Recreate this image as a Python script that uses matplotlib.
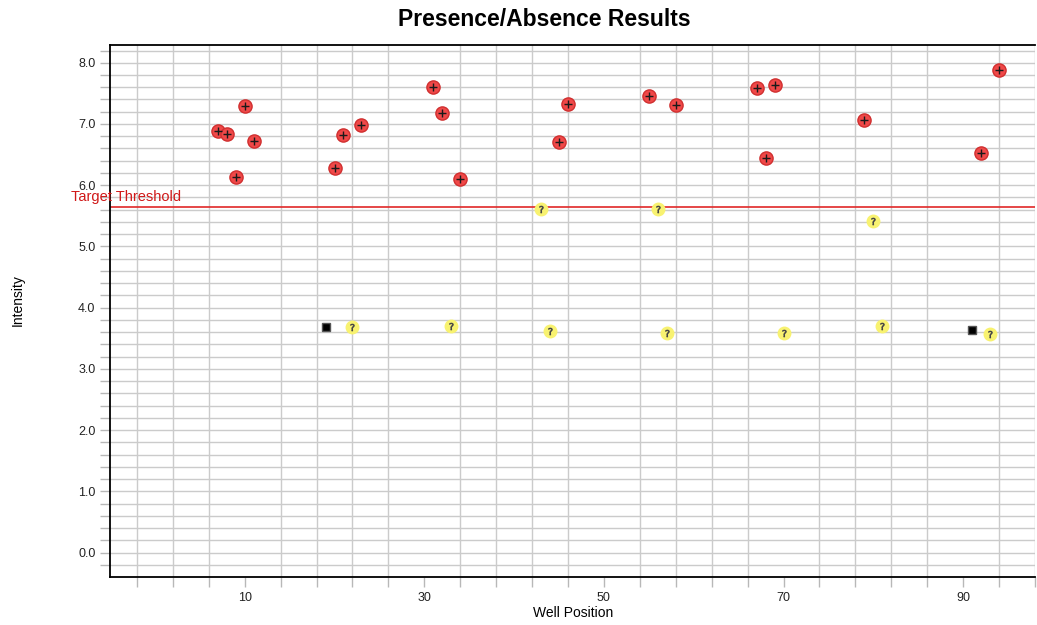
import numpy as np
import matplotlib
matplotlib.use('Agg')
import matplotlib.pyplot as plt

plt.rcParams['font.family'] = ['Liberation Sans', 'DejaVu Sans']

# positive calls (red)
pos_well = [7, 8, 9, 10, 11, 20, 21, 23, 31, 32, 34, 45, 46, 55, 58, 67, 68, 69, 79, 92, 94]
pos_int = [6.89, 6.84, 6.13, 7.29, 6.72, 6.28, 6.82, 6.98, 7.60, 7.18, 6.10, 6.71, 7.32,
           7.46, 7.31, 7.59, 6.44, 7.64, 7.07, 6.53, 7.88]
# undetermined calls (yellow ?)
und_well = [43, 56, 80, 22, 33, 44, 57, 70, 81, 93]
und_int = [5.61, 5.61, 5.42, 3.69, 3.70, 3.62, 3.59, 3.59, 3.70, 3.57]
# no template controls (black squares)
ntc_well = [19, 91]
ntc_int = [3.69, 3.63]

threshold = 5.64
x_labels = [10, 30, 50, 70, 90]
y_labels = [0.0, 1.0, 2.0, 3.0, 4.0, 5.0, 6.0, 7.0, 8.0]

fig = plt.figure(figsize=(10.37, 6.25), dpi=100)
ax = fig.add_axes([110/1037, 1-577/625, 925/1037, 532/625])

ax.set_xlim(-5, 98)
ax.set_ylim(-0.4, 8.29)

# grid
ax.set_xticks(np.arange(-2, 99, 4), minor=True)
ax.set_yticks(np.arange(-0.2, 8.25, 0.2), minor=True)
ax.set_xticks(x_labels)
ax.set_xticklabels([str(v) for v in x_labels])
ax.set_yticks(y_labels)
ax.set_yticklabels(['%.1f' % v for v in y_labels])
ax.grid(True, which='minor', color='#cbcbcb', linewidth=1.0, zorder=0)
ax.grid(True, which='major', axis='y', color='#cbcbcb', linewidth=1.0, zorder=0)
ax.tick_params(which='both', direction='out', length=7, color='#b8b8b8', width=1,
               labelsize=9, labelcolor='#222222')
ax.set_axisbelow(True)

for s in ['left', 'bottom', 'top']:
    ax.spines[s].set_color('black')
    ax.spines[s].set_linewidth(1.3)
ax.spines['right'].set_visible(False)

# threshold
ax.axhline(threshold, color='#e02828', linewidth=1.2, zorder=2)
ax.text(-9.3, threshold + 0.06, 'Target Threshold', color='#d01818', fontsize=10.5,
        ha='left', va='bottom', clip_on=False)

# points
ax.plot(pos_well, pos_int, 'o', ms=9.5, mfc='#f04848', mec='#d03030', mew=1, zorder=3)
ax.plot(pos_well, pos_int, '+', ms=6, mec='#1a1a1a', mew=1.0, zorder=4)
ax.plot(und_well, und_int, 'o', ms=9, mfc='#f8f270', mec='#f8f270', zorder=3)
ax.plot(und_well, und_int, marker='$?$', ls='none', ms=5, mec='#444444', mfc='#444444',
        mew=0.5, zorder=4)
ax.plot(ntc_well, ntc_int, 's', ms=6, mfc='black', mec='#555555', zorder=3)

fig.text(544/1037, 1-20/625, 'Presence/Absence Results', ha='center', va='center',
         fontsize=16.5, fontweight='bold')
fig.text(573/1037, 1-613/625, 'Well Position', ha='center', va='center', fontsize=10)
fig.text(18/1037, 1-300/625, 'Intensity', ha='center', va='center', fontsize=10,
         rotation=90)

fig.savefig('out.png', dpi=100)
